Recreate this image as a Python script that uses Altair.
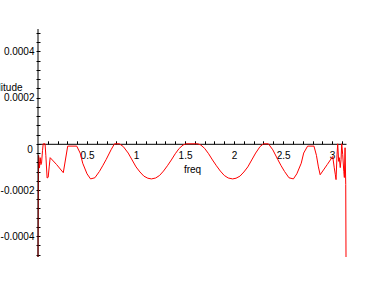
import altair as alt
import pandas as pd

freq = [0.000, 0.006, 0.015, 0.022, 0.030, 0.036, 0.046, 0.053, 0.072, 0.080,
        0.093, 0.104, 0.114, 0.124, 0.190, 0.258, 0.303, 0.395, 0.430, 0.456,
        0.500, 0.536, 0.580, 0.626, 0.660, 0.694, 0.745, 0.780, 0.830, 0.870,
        0.920, 0.960, 1.000, 1.040, 1.080, 1.120, 1.157, 1.200, 1.240, 1.280,
        1.320, 1.360, 1.400, 1.440, 1.480, 1.510, 1.630, 1.660, 1.700, 1.740,
        1.780, 1.820, 1.860, 1.900, 1.940, 1.985, 2.020, 2.060, 2.100, 2.140,
        2.180, 2.220, 2.265, 2.300, 2.350, 2.395, 2.447, 2.480, 2.515, 2.560,
        2.605, 2.640, 2.685, 2.710, 2.750, 2.815, 2.840, 2.860, 2.878, 2.950,
        3.006, 3.022, 3.033, 3.040, 3.050, 3.057, 3.067, 3.073, 3.083, 3.091,
        3.098, 3.108, 3.119, 3.125, 3.132, 3.139, 3.1416]

amplitude = [-0.00049, -0.00005, -0.000105, -0.00006, -0.00009, -0.000085, -0.00003, 0.0, 0.0, -0.00005,
             -0.000148, -0.000145, -0.0001, -0.00006, -0.00009, -0.000125, -0.00001, -0.00001, -0.00004, -0.000084,
             -0.00013, -0.000152, -0.000147, -0.00012, -0.000095, -0.000069, -0.000026, 0.0, 0.0, -0.000012,
             -0.00004, -0.00007, -0.0001, -0.000122, -0.00014, -0.000149, -0.000152, -0.000148, -0.000137, -0.000118,
             -0.000095, -0.00007, -0.000043, -0.00002, -0.000005, 0.0, 0.0, -0.000005, -0.00002, -0.000043,
             -0.00007, -0.000095, -0.000118, -0.000137, -0.000148, -0.000152, -0.000149, -0.00014, -0.000122, -0.0001,
             -0.00007, -0.00004, -0.000012, 0.0, 0.0, -0.000026, -0.000069, -0.000095, -0.00012, -0.000147,
             -0.000152, -0.00013, -0.000084, -0.00004, -0.00001, -0.00001, -0.00005, -0.0001, -0.000134, -0.00009,
             -0.000055, -0.000104, -0.000134, -0.000155, -0.000048, 0.0, -0.000076, -0.00006, -0.000103, -0.000069,
             0.0, -0.000047, -0.000119, -0.000146, -0.000017, -0.000176, -0.00049]

x_ticks = [0.1, 0.2, 0.3, 0.4, 0.5, 0.6, 0.7, 0.8, 0.9, 1.0, 1.1, 1.2, 1.3, 1.4, 1.5,
           1.6, 1.7, 1.8, 1.9, 2.0, 2.1, 2.2, 2.3, 2.4, 2.5, 2.6, 2.7, 2.8, 2.9, 3.0, 3.1]
y_ticks = [-0.00048, -0.00044, -0.0004, -0.00036, -0.00032, -0.00028, -0.00024, -0.0002,
           -0.00016, -0.00012, -0.00008, -0.00004, 0.0, 0.00004, 0.00008, 0.00012, 0.00016,
           0.0002, 0.00024, 0.00028, 0.00032, 0.00036, 0.0004, 0.00044, 0.00048]
zero_label = ["0"]

df = pd.DataFrame({"freq": freq, "amplitude": amplitude})

W, H = 308, 228
YMIN, YMAX = -0.00049, 0.000497
zero_px = H * YMAX / (YMAX - YMIN)
FONT = "Liberation Sans"

x_scale = alt.Scale(domain=[0, 3.14159], nice=False, zero=False)
y_scale = alt.Scale(domain=[YMIN, YMAX], nice=False, zero=False)

line = alt.Chart(df).mark_line(color="#ff0000", strokeWidth=1).encode(
    x=alt.X("freq:Q", scale=x_scale, axis=alt.Axis(
        orient="top", offset=-zero_px, values=x_ticks, tickCount=100, tickSize=3,
        tickColor="black", domainColor="black", tickWidth=1, domainWidth=1,
        labelExpr="round(datum.value*10) % 5 == 0 ? toString(round(datum.value*10)/10) : ''",
        labelBaseline="top", labelPadding=-10, labelFont=FONT, labelFontSize=10,
        labelColor="black", labelFlush=False, labelOverlap=False, grid=False,
        title="freq", titleX=W / 2, titleY=29, titleBaseline="alphabetic",
        titleFont=FONT, titleFontSize=10, titleFontWeight="normal", titleColor="black")),
    y=alt.Y("amplitude:Q", scale=y_scale, axis=alt.Axis(
        orient="left", offset=-2, values=y_ticks, tickCount=100, tickSize=4, domain=False,
        tickColor="black", tickWidth=1,
        labelExpr="(round(datum.value*50000) % 10 == 0 && round(datum.value*50000) != 0) ? ((datum.value < 0 ? '-' : '') + format(abs(datum.value), '.4f')) : ''",
        labelPadding=2, labelFont=FONT, labelFontSize=10, labelColor="black",
        labelFlush=False, labelOverlap=False, grid=False,
        title="amplitude", titleAngle=0, titleAlign="right", titleBaseline="middle",
        titleX=-18, titleY=58, titleFont=FONT, titleFontSize=10,
        titleFontWeight="normal", titleColor="black")),
)

origin = pd.DataFrame({"freq": [0.0], "amplitude": [0.0], "label": zero_label})

yaxis_line = alt.Chart(origin).mark_rule(color="black", strokeWidth=1).encode(
    x=alt.X("freq:Q", scale=x_scale)
)

zero_text = alt.Chart(origin).mark_text(
    dx=-8, dy=6, font=FONT, fontSize=10, color="black", align="center", baseline="middle"
).encode(
    x=alt.X("freq:Q", scale=x_scale),
    y=alt.Y("amplitude:Q", scale=y_scale),
    text="label:N",
)

chart = alt.layer(line, yaxis_line, zero_text).properties(
    width=W, height=H,
    autosize=alt.AutoSizeParams(type="none"),
    padding={"left": 38, "top": 29, "right": 40, "bottom": 29},
    background="white",
).configure_view(stroke=None)

chart.save("out.html", embed_options={"renderer": "svg", "actions": False})
